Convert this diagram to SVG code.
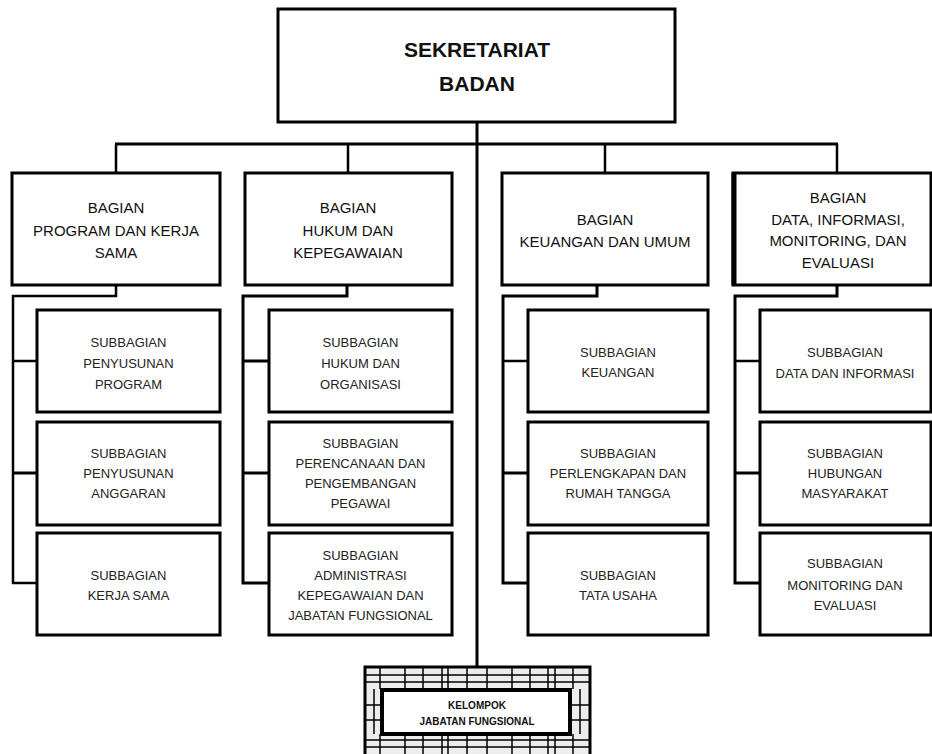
<svg xmlns="http://www.w3.org/2000/svg" width="932" height="754" viewBox="0 0 932 754">
<style>
.box{fill:#fff;stroke:#000;stroke-width:3}
.ln{fill:none;stroke:#000;stroke-width:2.5}
.lnt{fill:none;stroke:#000;stroke-width:3}
.t1{font-family:"Liberation Sans",Arial,sans-serif;font-weight:bold;font-size:21px;fill:#111;text-anchor:middle}
.t2{font-family:"Liberation Sans",Arial,sans-serif;font-size:15px;fill:#111;text-anchor:middle}
.t3{font-family:"Liberation Sans",Arial,sans-serif;font-size:13px;fill:#222;text-anchor:middle}
.g{fill:none;stroke:#000;stroke-width:1.5}
</style>
<rect width="932" height="754" fill="#fff"/>
<g id="connectors">
  <path class="lnt" d="M477 122 V667"/>
  <path class="lnt" d="M115 144 H838"/>
  <path class="ln" d="M116 144 V173 M348 144 V173 M605 144 V173 M837 144 V173"/>
  <path class="ln" d="M116 285 V296 H13 V583 H37 M13 361 H37"/>
  <path class="lnt" d="M13 473 H37"/>
  <path class="lnt" d="M347 285 V296 H243 V583 H269 M243 361 H269"/>
  <path class="lnt" d="M243 473 H269"/>
  <path class="lnt" d="M597 285 V296 H503 V583 H528"/>
  <path class="ln" d="M503 361 H528"/>
  <path class="lnt" d="M503 473 H528"/>
  <path class="lnt" d="M837 285 V296 H735 V583 H760"/>
  <path class="ln" d="M735 361 H760"/>
  <path class="lnt" d="M735 473 H760"/>
</g>
<g id="sekretariat">
  <rect class="box" x="278" y="9" width="397" height="113"/>
  <text class="t1" x="477" y="57">SEKRETARIAT</text>
  <text class="t1" x="477" y="91">BADAN</text>
</g>
<g id="bagian-program">
  <rect class="box" x="12" y="173" width="208" height="112"/>
  <text class="t2" x="116" y="213">BAGIAN</text>
  <text class="t2" x="116" y="236">PROGRAM DAN KERJA</text>
  <text class="t2" x="116" y="258">SAMA</text>
</g>
<g id="bagian-hukum">
  <rect class="box" x="245" y="173" width="207" height="112"/>
  <text class="t2" x="348" y="213">BAGIAN</text>
  <text class="t2" x="348" y="236">HUKUM DAN</text>
  <text class="t2" x="348" y="258">KEPEGAWAIAN</text>
</g>
<g id="bagian-keuangan">
  <rect class="box" x="502" y="173" width="206" height="112"/>
  <text class="t2" x="605" y="225">BAGIAN</text>
  <text class="t2" x="605" y="247">KEUANGAN DAN UMUM</text>
</g>
<g id="bagian-data">
  <rect class="box" x="733" y="173" width="198" height="112"/>
  <path d="M734 173 V285" stroke="#000" stroke-width="5"/>
  <text class="t2" x="838" y="203">BAGIAN</text>
  <text class="t2" x="838" y="225">DATA, INFORMASI,</text>
  <text class="t2" x="838" y="246">MONITORING, DAN</text>
  <text class="t2" x="838" y="268">EVALUASI</text>
</g>
<g id="sub-penyusunan-program">
  <rect class="box" x="37" y="310" width="183" height="102"/>
  <text class="t3" x="128.5" y="347">SUBBAGIAN</text>
  <text class="t3" x="128.5" y="368">PENYUSUNAN</text>
  <text class="t3" x="128.5" y="389">PROGRAM</text>
</g>
<g id="sub-penyusunan-anggaran">
  <rect class="box" x="37" y="422" width="183" height="103"/>
  <text class="t3" x="128.5" y="458">SUBBAGIAN</text>
  <text class="t3" x="128.5" y="478">PENYUSUNAN</text>
  <text class="t3" x="128.5" y="498">ANGGARAN</text>
</g>
<g id="sub-kerja-sama">
  <rect class="box" x="37" y="533" width="183" height="102"/>
  <text class="t3" x="128.5" y="580">SUBBAGIAN</text>
  <text class="t3" x="128.5" y="600">KERJA SAMA</text>
</g>
<g id="sub-hukum">
  <rect class="box" x="269" y="310" width="183" height="102"/>
  <text class="t3" x="360.5" y="347">SUBBAGIAN</text>
  <text class="t3" x="360.5" y="368">HUKUM DAN</text>
  <text class="t3" x="360.5" y="389">ORGANISASI</text>
</g>
<g id="sub-perencanaan">
  <rect class="box" x="269" y="422" width="183" height="103"/>
  <text class="t3" x="360.5" y="448">SUBBAGIAN</text>
  <text class="t3" x="360.5" y="468">PERENCANAAN DAN</text>
  <text class="t3" x="360.5" y="488">PENGEMBANGAN</text>
  <text class="t3" x="360.5" y="508">PEGAWAI</text>
</g>
<g id="sub-administrasi">
  <rect class="box" x="269" y="533" width="183" height="102"/>
  <text class="t3" x="360.5" y="560">SUBBAGIAN</text>
  <text class="t3" x="360.5" y="580">ADMINISTRASI</text>
  <text class="t3" x="360.5" y="600">KEPEGAWAIAN DAN</text>
  <text class="t3" x="360.5" y="620">JABATAN FUNGSIONAL</text>
</g>
<g id="sub-keuangan">
  <rect class="box" x="528" y="310" width="180" height="102"/>
  <text class="t3" x="618" y="357">SUBBAGIAN</text>
  <text class="t3" x="618" y="377">KEUANGAN</text>
</g>
<g id="sub-perlengkapan">
  <rect class="box" x="528" y="422" width="180" height="103"/>
  <text class="t3" x="618" y="458">SUBBAGIAN</text>
  <text class="t3" x="618" y="478">PERLENGKAPAN DAN</text>
  <text class="t3" x="618" y="498">RUMAH TANGGA</text>
</g>
<g id="sub-tata-usaha">
  <rect class="box" x="528" y="533" width="180" height="102"/>
  <text class="t3" x="618" y="580">SUBBAGIAN</text>
  <text class="t3" x="618" y="600">TATA USAHA</text>
</g>
<g id="sub-data">
  <rect class="box" x="760" y="310" width="171" height="102"/>
  <text class="t3" x="845" y="357">SUBBAGIAN</text>
  <text class="t3" x="845" y="378">DATA DAN INFORMASI</text>
</g>
<g id="sub-humas">
  <rect class="box" x="760" y="422" width="171" height="103"/>
  <text class="t3" x="845" y="458">SUBBAGIAN</text>
  <text class="t3" x="845" y="478">HUBUNGAN</text>
  <text class="t3" x="845" y="498">MASYARAKAT</text>
</g>
<g id="sub-monev">
  <rect class="box" x="760" y="533" width="171" height="102"/>
  <text class="t3" x="845" y="568">SUBBAGIAN</text>
  <text class="t3" x="845" y="590">MONITORING DAN</text>
  <text class="t3" x="845" y="610">EVALUASI</text>
</g>
<g id="kelompok-jabatan-fungsional">
  <rect x="365" y="667" width="225" height="90" fill="#ededed" stroke="#000" stroke-width="3"/>
  <path class="g" d="M366 675 H589 M366 682 H589 M366 740 H589 M366 747 H589
    M380 668 V689 M405 668 V689 M423 668 V689 M442 668 V689 M448 668 V689 M467 668 V689 M487 668 V689 M512 668 V689 M530 668 V689 M548 668 V689 M555 668 V689 M573 668 V689
    M380 734 V754 M405 734 V754 M423 734 V754 M442 734 V754 M448 734 V754 M467 734 V754 M487 734 V754 M512 734 V754 M530 734 V754 M548 734 V754 M555 734 V754 M573 734 V754
    M374 689 V734 M580 689 V734 M366 705 H382 M366 720 H382 M570 705 H589 M570 720 H589"/>
  <rect x="382" y="690" width="188" height="44" fill="#fff" stroke="#000" stroke-width="4"/>
  <text x="477" y="709" font-family="'Liberation Sans',Arial,sans-serif" font-size="10" font-weight="bold" fill="#111" text-anchor="middle">KELOMPOK</text>
  <text x="477" y="725" font-family="'Liberation Sans',Arial,sans-serif" font-size="10" font-weight="bold" fill="#111" text-anchor="middle">JABATAN FUNGSIONAL</text>
</g>
</svg>
